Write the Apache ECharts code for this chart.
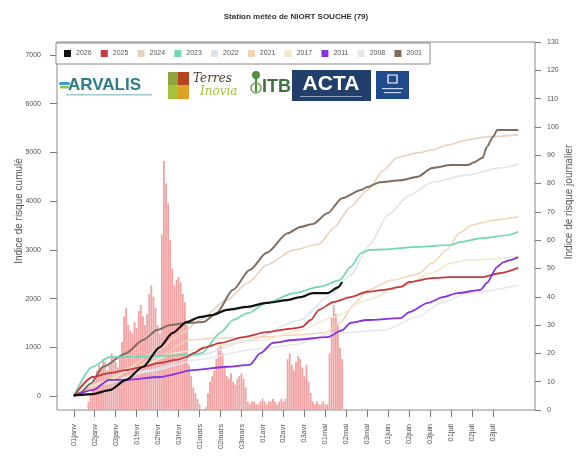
<!DOCTYPE html>
<html>
<head>
<meta charset="utf-8">
<script src="https://cdn.jsdelivr.net/npm/echarts@6/dist/echarts.min.js"></script>
<style>
  html, body { margin: 0; padding: 0; background: #fff; }
  #chart { width: 583px; height: 464px; }
</style>
</head>
<body>
<div id="chart"></div>
<script>
// Dekad tick labels (one every 10 days from 1 January)
const xTickLabels = ['01janv','02janv','03janv','01févr','02févr','03févr','01mars','02mars','03mars',
  '01avr','02avr','03avr','01mai','02mai','03mai','01juin','02juin','03juin','01juil','02juil','03juil'];

// Daily risk index for the current season (right axis), one value per day from 1 January
const dailyRisk2026 = [
  0,0,0,0,0,0,0,
  3,6,9,12,14,16,
  15,18,17,14,16,20,19,17,15,19,
  24,33,36,30,28,
  27,31,29,
  35,37,
  33,30,34,
  41,44,40,
  36,30,27,
  62,88,80,
  73,60,
  50,
  44,46,47,45,41,38,
  30,16,12,
  8,6,4,2,
  0,0,1,
  6,10,12,14,18,22,24,20,15,12,
  11,13,10,9,11,
  12,13,11,8,
  3,2,3,3,2,2,3,4,3,2,3,3,4,3,2,3,4,3,4,
  18,20,16,14,17,19,18,15,12,16,10,6,3,
  2,3,2,2,3,2,2,
  20,33,37,34,30,22,18
];

// Cumulative risk index per season: [day since 1 January, value]
const cum2026 = [[0,0],[1,20],[9,40],[17,120],[25,330],[33,600],[41,1000],[47,1290],[54,1520],[60,1620],[66,1660],[73,1770],[83,1830],[92,1910],[102,1970],[108,2030],[114,2110],[121,2110],[126,2230],[128,2340]];
const cum2025 = [[0,0],[9,390],[17,470],[25,530],[33,600],[41,680],[49,740],[54,800],[57,880],[62,990],[70,1090],[81,1210],[92,1310],[105,1390],[109,1420],[113,1560],[117,1770],[124,1930],[132,2030],[140,2140],[148,2180],[156,2240],[160,2340],[171,2420],[180,2440],[195,2440],[203,2520],[212,2630]];
const cum2024 = [[0,0],[12,230],[25,560],[40,950],[52,1300],[60,1560],[73,1970],[83,2320],[92,2690],[105,3000],[117,3120],[124,3450],[132,3880],[140,4230],[148,4640],[154,4890],[164,4990],[171,5050],[178,5150],[188,5260],[197,5320],[212,5360]];
const cum2023 = [[0,0],[9,600],[17,800],[33,810],[45,830],[57,850],[61,880],[70,1300],[76,1560],[83,1700],[92,1910],[105,2110],[117,2240],[127,2380],[132,2650],[137,2930],[141,3000],[148,3010],[164,3060],[180,3100],[184,3160],[195,3240],[207,3300],[212,3370]];
const cum2022 = [[0,0],[12,230],[36,530],[60,840],[84,1150],[108,1560],[122,2060],[132,2480],[141,3100],[150,3720],[160,4120],[171,4390],[188,4540],[203,4680],[212,4760]];
const cum2021 = [[0,0],[12,200],[25,500],[40,800],[55,1150],[70,1190],[90,1210],[105,1250],[120,1300],[127,1500],[134,1900],[140,2170],[152,2380],[164,2500],[171,2730],[178,3000],[184,3350],[190,3510],[200,3610],[212,3680]];
const cum2017 = [[0,0],[15,300],[30,600],[50,900],[70,1050],[90,1150],[108,1350],[124,1620],[140,1970],[156,2240],[171,2530],[180,2730],[188,2790],[212,2860]];
const cum2011 = [[0,0],[9,120],[17,330],[25,330],[41,390],[57,530],[73,600],[84,640],[89,880],[95,1090],[105,1150],[121,1210],[128,1350],[132,1500],[140,1560],[156,1600],[160,1720],[169,1910],[176,2030],[183,2110],[194,2180],[197,2320],[202,2650],[205,2750],[208,2790],[212,2850]];
const cum2008 = [[0,0],[15,250],[35,500],[60,750],[85,950],[105,1050],[124,1290],[148,1350],[164,1620],[175,1910],[188,2110],[212,2280]];
const cum2001 = [[0,0],[3,60],[8,250],[14,600],[25,880],[33,1150],[40,1360],[46,1460],[54,1500],[62,1520],[68,1700],[76,2180],[84,2590],[92,2940],[102,3340],[108,3470],[114,3530],[121,3750],[128,4060],[137,4230],[140,4290],[146,4390],[156,4430],[164,4500],[171,4680],[180,4740],[188,4740],[191,4800],[195,4890],[197,5110],[200,5320],[202,5460],[212,5460]];

const seasons = ['2026','2025','2024','2023','2022','2021','2017','2011','2008','2001'];
const seasonData = [cum2026, cum2025, cum2024, cum2023, cum2022, cum2021, cum2017, cum2011, cum2008, cum2001];
const seasonColors = ['#111111','#c43b3d','#e9d2bc','#6fd6b6','#dde3ea','#f5d4b6','#f4e8cc','#8633df','#e5e8ec','#7f6e60'];
const seasonWidths = [2.2, 1.8, 1.6, 1.7, 1.5, 1.5, 1.5, 1.8, 1.5, 2.0];
const seasonZ = [20, 17, 12, 16, 10, 11, 11, 18, 10, 15];

const FONT = '"Liberation Sans", Arial, sans-serif';
const tickDays = xTickLabels.map((_, i) => i * 10);
const axisGrey = '#7a7a7a';

const chart = echarts.init(document.getElementById('chart'), null, { renderer: 'canvas' });

const lineSeries = seasons.map((name, i) => ({
  name: name,
  type: 'line',
  xAxisIndex: 1,
  yAxisIndex: 1,
  data: seasonData[i],
  showSymbol: false,
  smooth: 0.25,
  smoothMonotone: 'x',
  z: seasonZ[i],
  color: seasonColors[i],
  lineStyle: { color: seasonColors[i], width: seasonWidths[i] },
  emphasis: { disabled: true }
}));

const option = {
  animation: false,
  backgroundColor: '#ffffff',
  textStyle: { fontFamily: FONT },
  grid: [
    { left: 57, right: 48, top: 42, bottom: 54, show: true, borderColor: '#8a8a8a', borderWidth: 1, backgroundColor: 'transparent', z: 0 },
    { left: 57, right: 48, top: 55, bottom: 68 }
  ],
  legend: {
    data: seasons,
    left: 56,
    top: 43,
    icon: 'rect',
    itemWidth: 7,
    itemHeight: 7,
    itemGap: 9.2,
    padding: [7, 8],
    borderColor: '#8a8a8a',
    borderWidth: 1,
    backgroundColor: '#ffffff',
    textStyle: { fontSize: 7, color: '#555', fontFamily: FONT },
    selectedMode: false,
    z: 30
  },
  xAxis: [
    {
      type: 'value', gridIndex: 0, min: -8, max: 220,
      axisLine: { show: false, onZero: false },
      splitLine: { show: false },
      axisTick: { show: true, customValues: tickDays, length: 7, lineStyle: { color: axisGrey } },
      axisLabel: {
        customValues: tickDays, rotate: 90, margin: 14, fontSize: 7.5, color: '#555',
        formatter: v => xTickLabels[Math.round(v / 10)] || ''
      }
    },
    {
      type: 'value', gridIndex: 1, min: -8, max: 220, show: false
    }
  ],
  yAxis: [
    {
      type: 'value', gridIndex: 0, position: 'right', min: 0, max: 130, interval: 10,
      axisLine: { show: false, onZero: false },
      splitLine: { show: false },
      axisTick: { show: true, length: 6, lineStyle: { color: axisGrey } },
      axisLabel: { margin: 12, fontSize: 7, color: '#555', formatter: v => String(v) }
    },
    {
      type: 'value', gridIndex: 1, position: 'left', min: 0, max: 7000, interval: 1000,
      axisLine: { show: false, onZero: false },
      splitLine: { show: false },
      axisTick: { show: true, length: 7, lineStyle: { color: axisGrey } },
      axisLabel: { margin: 16, fontSize: 7, color: '#555', formatter: v => String(v) }
    }
  ],
  series: [
    {
      name: 'Indice journalier',
      type: 'bar',
      xAxisIndex: 0,
      yAxisIndex: 0,
      data: dailyRisk2026.map((v, d) => [d, v]),
      barWidth: 1.8,
      itemStyle: { color: '#f2a2a2' },
      z: 1,
      emphasis: { disabled: true }
    },
    ...lineSeries
  ],
  graphic: [
    // title
    { type: 'text', x: 296, y: 17, style: { text: 'Station météo de NIORT SOUCHE (79)', font: 'bold 8px ' + FONT, fill: '#333', align: 'center', verticalAlign: 'middle' } },
    // axis titles
    { type: 'text', x: 19, y: 211, rotation: Math.PI / 2, style: { text: 'Indice de risque cumulé', font: '10px ' + FONT, fill: '#555', align: 'center', verticalAlign: 'middle' } },
    { type: 'text', x: 569, y: 202, rotation: Math.PI / 2, style: { text: 'Indice de risque journalier', font: '10px ' + FONT, fill: '#555', align: 'center', verticalAlign: 'middle' } },

    // partner banner: ARVALIS
    { type: 'rect', shape: { x: 58, y: 71, width: 100, height: 29 }, style: { fill: '#ffffff' }, z: 40 },
    { type: 'rect', shape: { x: 59, y: 82, width: 11, height: 3, r: 1.5 }, style: { fill: '#3b9fca' }, z: 41 },
    { type: 'rect', shape: { x: 60, y: 86, width: 9, height: 2.5, r: 1.2 }, style: { fill: '#8cc04b' }, z: 41 },
    { type: 'text', x: 68, y: 85, z: 41, style: { text: 'ARVALIS', font: 'bold 17px ' + FONT, fill: '#2c7d86', verticalAlign: 'middle' } },
    { type: 'rect', shape: { x: 66, y: 94, width: 86, height: 1.5 }, style: { fill: '#9fc8cc' }, z: 41 },

    // Terres Inovia
    { type: 'rect', shape: { x: 168, y: 72, width: 10, height: 13 }, style: { fill: '#8fa43a' }, z: 40 },
    { type: 'rect', shape: { x: 178, y: 72, width: 11, height: 13 }, style: { fill: '#b5451f' }, z: 40 },
    { type: 'rect', shape: { x: 168, y: 85, width: 10, height: 14 }, style: { fill: '#a5c23d' }, z: 40 },
    { type: 'rect', shape: { x: 178, y: 85, width: 11, height: 14 }, style: { fill: '#dfa227' }, z: 40 },
    { type: 'text', x: 193, y: 79, z: 41, style: { text: 'Terres', font: 'italic 12px "DejaVu Serif", serif', fill: '#4a3b2c', verticalAlign: 'middle' } },
    { type: 'text', x: 200, y: 92, z: 41, style: { text: 'Inovia', font: 'italic 12px "DejaVu Serif", serif', fill: '#a6bf3a', verticalAlign: 'middle' } },

    // ITB
    { type: 'circle', shape: { cx: 256, cy: 75, r: 4 }, style: { fill: '#4f8e3f' }, z: 40 },
    { type: 'rect', shape: { x: 255, y: 78, width: 2, height: 14 }, style: { fill: '#4f8e3f' }, z: 40 },
    { type: 'circle', shape: { cx: 256, cy: 88, r: 5 }, style: { fill: 'none', stroke: '#6aa84f', lineWidth: 1.5 }, z: 40 },
    { type: 'text', x: 262, y: 87, z: 41, style: { text: 'ITB', font: 'bold 18px ' + FONT, fill: '#3f7040', verticalAlign: 'middle' } },

    // ACTA
    { type: 'rect', shape: { x: 292, y: 70, width: 79, height: 31 }, style: { fill: '#223f6c' }, z: 40 },
    { type: 'text', x: 331, y: 84, z: 41, style: { text: 'ACTA', font: 'bold 21px ' + FONT, fill: '#ffffff', align: 'center', verticalAlign: 'middle' } },
    { type: 'rect', shape: { x: 300, y: 96, width: 62, height: 1 }, style: { fill: '#8ea3c4' }, z: 41 },

    // small blue emblem
    { type: 'rect', shape: { x: 376, y: 71, width: 33, height: 28 }, style: { fill: '#1f4b8c' }, z: 40 },
    { type: 'rect', shape: { x: 388, y: 75, width: 9, height: 8 }, style: { fill: 'none', stroke: '#ffffff', lineWidth: 1.2 }, z: 41 },
    { type: 'rect', shape: { x: 382, y: 88, width: 21, height: 1.2 }, style: { fill: '#c9d6ea' }, z: 41 },
    { type: 'rect', shape: { x: 384, y: 92, width: 17, height: 1.2 }, style: { fill: '#c9d6ea' }, z: 41 }
  ]
};

chart.setOption(option);
</script>
</body>
</html>
